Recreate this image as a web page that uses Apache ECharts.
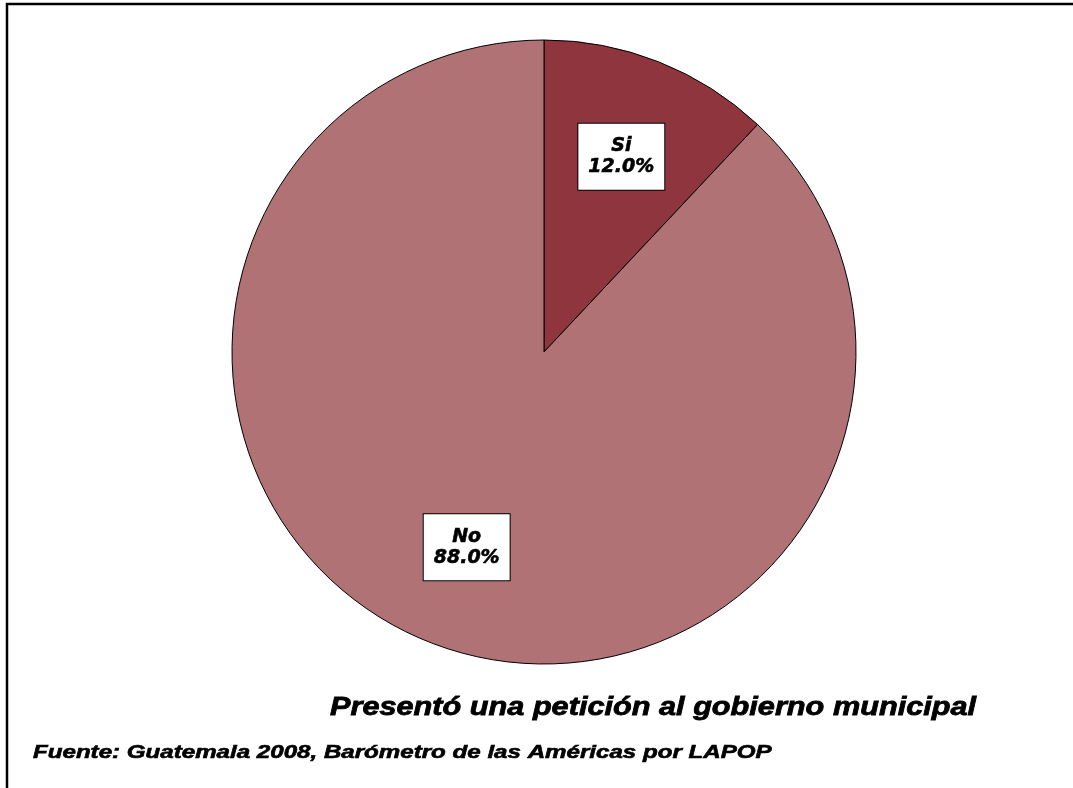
<!DOCTYPE html>
<html>
<head>
<meta charset="utf-8">
<script src="https://cdn.jsdelivr.net/npm/echarts@6/dist/echarts.min.js"></script>
<style>
html,body{margin:0;padding:0;background:#fff;}
#c{width:1073px;height:788px;}
</style>
</head>
<body>
<div id="c"></div>
<script>
const categories = ['Si', 'No'];
const values = [12.0, 88.0];
const colors = ['#8E353D', '#B07275'];
const titleText = 'Presentó una petición al gobierno municipal';
const sourceText = 'Fuente: Guatemala 2008, Barómetro de las Américas por LAPOP';

const chart = echarts.init(document.getElementById('c'), null, {renderer: 'canvas'});
const FONT = 'Liberation Sans, Arial, sans-serif';

const pieData = categories.map((n, i) => ({name: n, value: values[i], itemStyle: {color: colors[i]}}));
const labelData = categories.map((n, i) => ({name: n, value: values[i]}));

chart.setOption({
  animation: false,
  backgroundColor: '#fff',
  series: [
    {
      type: 'pie',
      center: [544, 352],
      radius: [0, 312],
      startAngle: 90,
      clockwise: true,
      label: {show: false},
      labelLine: {show: false},
      itemStyle: {borderColor: '#000', borderWidth: 1},
      emphasis: {disabled: true},
      data: pieData
    },
    {
      type: 'pie',
      center: [544, 352],
      radius: [100, 314],
      startAngle: 90,
      clockwise: true,
      silent: true,
      itemStyle: {color: 'rgba(0,0,0,0)', borderWidth: 0},
      emphasis: {disabled: true},
      labelLine: {show: false},
      label: {
        show: true,
        position: 'inside',
        formatter: p => p.name + '\n' + p.value.toFixed(1) + '%',
        fontFamily: 'DejaVu Sans',
        fontWeight: 'bold',
        fontStyle: 'italic',
        fontSize: 19,
        lineHeight: 21,
        color: '#000',
        textBorderColor: '#000',
        textBorderWidth: 0.6,
        backgroundColor: '#fff',
        borderColor: '#000',
        borderWidth: 1,
        padding: [12, 10, 12, 10],
        align: 'center'
      },
      data: labelData
    }
  ],
  graphic: [
    {
      type: 'rect',
      shape: {x: 7, y: 4, width: 1200, height: 1000},
      style: {fill: 'none', stroke: '#000', lineWidth: 2.5},
      silent: true
    },
    {
      type: 'text',
      x: 330, y: 708,
      scaleX: 1.18,
      style: {
        text: titleText,
        fontFamily: FONT, fontWeight: 'bold', fontStyle: 'italic', fontSize: 26,
        fill: '#000', stroke: '#000', lineWidth: 0.8, verticalAlign: 'middle'
      }
    },
    {
      type: 'text',
      x: 33, y: 753,
      scaleX: 1.34,
      style: {
        text: sourceText,
        fontFamily: FONT, fontWeight: 'bold', fontStyle: 'italic', fontSize: 18,
        fill: '#000', stroke: '#000', lineWidth: 0.6, verticalAlign: 'middle'
      }
    }
  ]
});
</script>
</body>
</html>
